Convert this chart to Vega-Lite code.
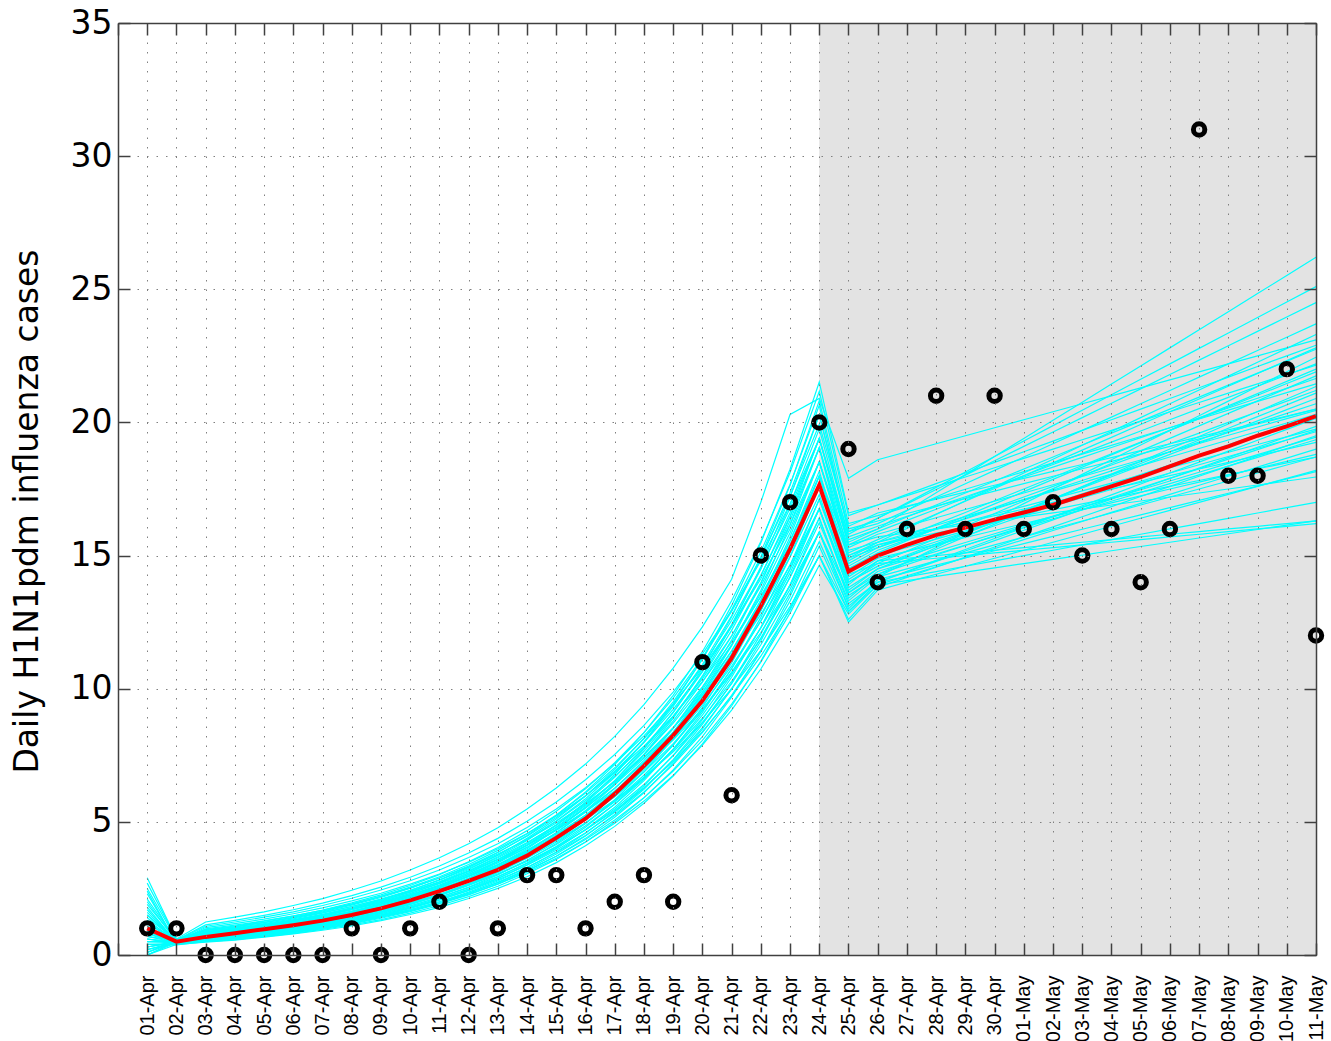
{
  "$schema": "https://vega.github.io/schema/vega-lite/v6.json",
  "width": 1198,
  "height": 932,
  "autosize": {"type": "none"},
  "padding": {"left": 118, "top": 23, "right": 15, "bottom": 86},
  "background": "white",
  "config": {"view": {"stroke": null}, "font": "DejaVu Sans"},
  "datasets": {
    "shade": [{"start": "2009-04-24", "end": "2009-05-11"}],
    "daily": [
      {"date":"2009-04-01","obs":1,"mean":1.0,"t1":1.0,"t2":0.6,"t3":1.5,"t4":0.3,"t5":2.1,"t6":0.8,"t7":0,"t8":1.2,"t9":0.5,"t10":0.9,"t11":1.8,"t12":0.2,"t13":1.3,"t14":0.7,"t15":2.5,"t16":0.4,"t17":1.1,"t18":0.6,"t19":1.6,"t20":0.1,"t21":0.9,"t22":1.4,"t23":0.5,"t24":2.9,"t25":0.3,"t26":1.9,"t27":2.7,"t28":1.0,"t29":0,"t30":0.7,"t31":1.0,"t32":0.2},
      {"date":"2009-04-02","obs":1,"mean":0.5,"t1":0.45,"t2":0.42,"t3":0.5,"t4":0.48,"t5":0.55,"t6":0.5,"t7":0.4,"t8":0.47,"t9":0.52,"t10":0.4,"t11":0.46,"t12":0.44,"t13":0.5,"t14":0.53,"t15":0.58,"t16":0.38,"t17":0.43,"t18":0.46,"t19":0.5,"t20":0.48,"t21":0.51,"t22":0.55,"t23":0.45,"t24":0.6,"t25":0.5,"t26":0.56,"t27":0.6,"t28":0.42,"t29":0.47,"t30":0.46,"t31":0.44,"t32":0.5},
      {"date":"2009-04-03","obs":0,"mean":0.68,"t1":0.68,"t2":0.61,"t3":0.65,"t4":0.71,"t5":0.75,"t6":0.78,"t7":0.58,"t8":0.69,"t9":0.82,"t10":0.71,"t11":0.75,"t12":0.8,"t13":0.84,"t14":0.88,"t15":0.92,"t16":0.5,"t17":0.52,"t18":0.55,"t19":0.58,"t20":0.61,"t21":0.63,"t22":0.67,"t23":0.88,"t24":0.93,"t25":1.03,"t26":1.13,"t27":1.24,"t28":0.56,"t29":0.82,"t30":0.66,"t31":0.51,"t32":0.73},
      {"date":"2009-04-04","obs":0,"mean":0.82,"t1":0.79,"t2":0.71,"t3":0.75,"t4":0.83,"t5":0.87,"t6":0.91,"t7":0.67,"t8":0.81,"t9":0.95,"t10":0.82,"t11":0.87,"t12":0.92,"t13":0.97,"t14":1.02,"t15":1.07,"t16":0.58,"t17":0.62,"t18":0.65,"t19":0.68,"t20":0.71,"t21":0.75,"t22":0.79,"t23":1.0,"t24":1.06,"t25":1.18,"t26":1.3,"t27":1.42,"t28":0.66,"t29":0.95,"t30":0.77,"t31":0.6,"t32":0.86},
      {"date":"2009-04-05","obs":0,"mean":0.97,"t1":0.93,"t2":0.83,"t3":0.88,"t4":0.97,"t5":1.02,"t6":1.07,"t7":0.79,"t8":0.95,"t9":1.11,"t10":0.95,"t11":1.01,"t12":1.06,"t13":1.12,"t14":1.18,"t15":1.23,"t16":0.69,"t17":0.73,"t18":0.77,"t19":0.8,"t20":0.84,"t21":0.88,"t22":0.93,"t23":1.15,"t24":1.22,"t25":1.35,"t26":1.49,"t27":1.62,"t28":0.77,"t29":1.1,"t30":0.9,"t31":0.71,"t32":1.0},
      {"date":"2009-04-06","obs":0,"mean":1.12,"t1":1.08,"t2":0.97,"t3":1.03,"t4":1.14,"t5":1.19,"t6":1.25,"t7":0.92,"t8":1.1,"t9":1.3,"t10":1.1,"t11":1.17,"t12":1.23,"t13":1.3,"t14":1.36,"t15":1.42,"t16":0.81,"t17":0.86,"t18":0.9,"t19":0.95,"t20":0.99,"t21":1.04,"t22":1.1,"t23":1.31,"t24":1.39,"t25":1.55,"t26":1.7,"t27":1.86,"t28":0.9,"t29":1.27,"t30":1.05,"t31":0.84,"t32":1.17},
      {"date":"2009-04-07","obs":0,"mean":1.29,"t1":1.26,"t2":1.14,"t3":1.2,"t4":1.33,"t5":1.39,"t6":1.45,"t7":1.07,"t8":1.29,"t9":1.52,"t10":1.27,"t11":1.35,"t12":1.42,"t13":1.5,"t14":1.57,"t15":1.65,"t16":0.96,"t17":1.01,"t18":1.07,"t19":1.12,"t20":1.17,"t21":1.22,"t22":1.3,"t23":1.5,"t24":1.59,"t25":1.77,"t26":1.95,"t27":2.12,"t28":1.05,"t29":1.47,"t30":1.23,"t31":0.99,"t32":1.37},
      {"date":"2009-04-08","obs":1,"mean":1.5,"t1":1.48,"t2":1.33,"t3":1.4,"t4":1.55,"t5":1.62,"t6":1.7,"t7":1.25,"t8":1.51,"t9":1.77,"t10":1.47,"t11":1.56,"t12":1.64,"t13":1.73,"t14":1.82,"t15":1.9,"t16":1.13,"t17":1.19,"t18":1.26,"t19":1.32,"t20":1.38,"t21":1.45,"t22":1.53,"t23":1.72,"t24":1.82,"t25":2.03,"t26":2.23,"t27":2.43,"t28":1.23,"t29":1.7,"t30":1.43,"t31":1.17,"t32":1.59},
      {"date":"2009-04-09","obs":0,"mean":1.75,"t1":1.72,"t2":1.55,"t3":1.64,"t4":1.81,"t5":1.9,"t6":1.98,"t7":1.47,"t8":1.76,"t9":2.07,"t10":1.7,"t11":1.8,"t12":1.9,"t13":2.0,"t14":2.1,"t15":2.2,"t16":1.33,"t17":1.41,"t18":1.48,"t19":1.56,"t20":1.63,"t21":1.71,"t22":1.81,"t23":1.97,"t24":2.09,"t25":2.32,"t26":2.55,"t27":2.78,"t28":1.43,"t29":1.96,"t30":1.67,"t31":1.38,"t32":1.86},
      {"date":"2009-04-10","obs":1,"mean":2.05,"t1":2.01,"t2":1.81,"t3":1.91,"t4":2.11,"t5":2.21,"t6":2.31,"t7":1.71,"t8":2.05,"t9":2.42,"t10":1.97,"t11":2.08,"t12":2.2,"t13":2.31,"t14":2.43,"t15":2.55,"t16":1.57,"t17":1.66,"t18":1.75,"t19":1.84,"t20":1.92,"t21":2.01,"t22":2.13,"t23":2.26,"t24":2.39,"t25":2.66,"t26":2.92,"t27":3.19,"t28":1.67,"t29":2.27,"t30":1.95,"t31":1.63,"t32":2.17},
      {"date":"2009-04-11","obs":2,"mean":2.4,"t1":2.35,"t2":2.12,"t3":2.23,"t4":2.47,"t5":2.59,"t6":2.7,"t7":2.0,"t8":2.4,"t9":2.82,"t10":2.27,"t11":2.41,"t12":2.54,"t13":2.68,"t14":2.81,"t15":2.94,"t16":1.86,"t17":1.96,"t18":2.06,"t19":2.17,"t20":2.27,"t21":2.37,"t22":2.52,"t23":2.58,"t24":2.74,"t25":3.04,"t26":3.34,"t27":3.65,"t28":1.95,"t29":2.62,"t30":2.28,"t31":1.92,"t32":2.54},
      {"date":"2009-04-12","obs":0,"mean":2.78,"t1":2.75,"t2":2.47,"t3":2.61,"t4":2.88,"t5":3.02,"t6":3.16,"t7":2.33,"t8":2.8,"t9":3.29,"t10":2.63,"t11":2.78,"t12":2.94,"t13":3.09,"t14":3.25,"t15":3.4,"t16":2.19,"t17":2.31,"t18":2.43,"t19":2.55,"t20":2.68,"t21":2.8,"t22":2.97,"t23":2.96,"t24":3.13,"t25":3.48,"t26":3.83,"t27":4.18,"t28":2.28,"t29":3.03,"t30":2.66,"t31":2.26,"t32":2.96},
      {"date":"2009-04-13","obs":1,"mean":3.2,"t1":3.21,"t2":2.88,"t3":3.04,"t4":3.37,"t5":3.53,"t6":3.69,"t7":2.72,"t8":3.27,"t9":3.85,"t10":3.04,"t11":3.22,"t12":3.4,"t13":3.58,"t14":3.75,"t15":3.93,"t16":2.58,"t17":2.73,"t18":2.87,"t19":3.01,"t20":3.16,"t21":3.3,"t22":3.5,"t23":3.39,"t24":3.59,"t25":3.99,"t26":4.38,"t27":4.78,"t28":2.66,"t29":3.5,"t30":3.11,"t31":2.67,"t32":3.46},
      {"date":"2009-04-14","obs":3,"mean":3.73,"t1":3.74,"t2":3.37,"t3":3.56,"t4":3.93,"t5":4.12,"t6":4.3,"t7":3.18,"t8":3.82,"t9":4.49,"t10":3.51,"t11":3.72,"t12":3.93,"t13":4.13,"t14":4.34,"t15":4.55,"t16":3.05,"t17":3.22,"t18":3.39,"t19":3.55,"t20":3.72,"t21":3.89,"t22":4.13,"t23":3.88,"t24":4.11,"t25":4.56,"t26":5.02,"t27":5.48,"t28":3.11,"t29":4.05,"t30":3.63,"t31":3.15,"t32":4.04},
      {"date":"2009-04-15","obs":3,"mean":4.4,"t1":4.37,"t2":3.93,"t3":4.15,"t4":4.59,"t5":4.81,"t6":5.03,"t7":3.71,"t8":4.46,"t9":5.24,"t10":4.06,"t11":4.3,"t12":4.54,"t13":4.78,"t14":5.02,"t15":5.26,"t16":3.59,"t17":3.79,"t18":3.99,"t19":4.19,"t20":4.39,"t21":4.59,"t22":4.87,"t23":4.44,"t24":4.7,"t25":5.22,"t26":5.75,"t27":6.27,"t28":3.63,"t29":4.68,"t30":4.24,"t31":3.71,"t32":4.72},
      {"date":"2009-04-16","obs":1,"mean":5.12,"t1":5.1,"t2":4.59,"t3":4.85,"t4":5.36,"t5":5.61,"t6":5.87,"t7":4.34,"t8":5.21,"t9":6.12,"t10":4.7,"t11":4.97,"t12":5.25,"t13":5.53,"t14":5.8,"t15":6.08,"t16":4.24,"t17":4.47,"t18":4.71,"t19":4.94,"t20":5.18,"t21":5.42,"t22":5.74,"t23":5.08,"t24":5.38,"t25":5.98,"t26":6.58,"t27":7.17,"t28":4.24,"t29":5.42,"t30":4.95,"t31":4.38,"t32":5.51},
      {"date":"2009-04-17","obs":2,"mean":6.05,"t1":5.96,"t2":5.36,"t3":5.66,"t4":6.26,"t5":6.55,"t6":6.85,"t7":5.07,"t8":6.08,"t9":7.15,"t10":5.43,"t11":5.75,"t12":6.07,"t13":6.39,"t14":6.71,"t15":7.03,"t16":5.0,"t17":5.28,"t18":5.55,"t19":5.83,"t20":6.11,"t21":6.39,"t22":6.78,"t23":5.82,"t24":6.16,"t25":6.85,"t26":7.53,"t27":8.21,"t28":4.95,"t29":6.26,"t30":5.78,"t31":5.17,"t32":6.44},
      {"date":"2009-04-18","obs":3,"mean":7.1,"t1":6.96,"t2":6.26,"t3":6.61,"t4":7.31,"t5":7.65,"t6":8.0,"t7":5.91,"t8":7.1,"t9":8.35,"t10":6.28,"t11":6.65,"t12":7.02,"t13":7.39,"t14":7.76,"t15":8.12,"t16":5.9,"t17":6.22,"t18":6.55,"t19":6.88,"t20":7.21,"t21":7.53,"t22":7.99,"t23":6.66,"t24":7.05,"t25":7.84,"t26":8.62,"t27":9.4,"t28":5.78,"t29":7.24,"t30":6.75,"t31":6.09,"t32":7.51},
      {"date":"2009-04-19","obs":2,"mean":8.25,"t1":8.13,"t2":7.31,"t3":7.72,"t4":8.53,"t5":8.94,"t6":9.34,"t7":6.91,"t8":8.29,"t9":9.75,"t10":7.26,"t11":7.69,"t12":8.11,"t13":8.54,"t14":8.97,"t15":9.39,"t16":6.95,"t17":7.34,"t18":7.73,"t19":8.11,"t20":8.5,"t21":8.89,"t22":9.43,"t23":7.63,"t24":8.07,"t25":8.97,"t26":9.87,"t27":10.77,"t28":6.74,"t29":8.37,"t30":7.88,"t31":7.19,"t32":8.78},
      {"date":"2009-04-20","obs":11,"mean":9.55,"t1":9.49,"t2":8.54,"t3":9.01,"t4":9.96,"t5":10.44,"t6":10.91,"t7":8.06,"t8":9.68,"t9":11.39,"t10":8.39,"t11":8.89,"t12":9.38,"t13":9.87,"t14":10.37,"t15":10.86,"t16":8.2,"t17":8.66,"t18":9.11,"t19":9.57,"t20":10.03,"t21":10.48,"t22":11.12,"t23":8.73,"t24":9.24,"t25":10.27,"t26":11.3,"t27":12.32,"t28":7.88,"t29":9.68,"t30":9.2,"t31":8.48,"t32":10.25},
      {"date":"2009-04-21","obs":6,"mean":11.15,"t1":11.08,"t2":9.97,"t3":10.53,"t4":11.63,"t5":12.19,"t6":12.74,"t7":9.42,"t8":11.3,"t9":13.3,"t10":9.71,"t11":10.28,"t12":10.85,"t13":11.42,"t14":11.99,"t15":12.56,"t16":9.68,"t17":10.21,"t18":10.75,"t19":11.29,"t20":11.83,"t21":12.36,"t22":13.12,"t23":10.0,"t24":10.58,"t25":11.76,"t26":12.94,"t27":14.11,"t28":9.2,"t29":11.19,"t30":10.75,"t31":10.0,"t32":11.97},
      {"date":"2009-04-22","obs":15,"mean":13.1,"t1":12.94,"t2":11.65,"t3":12.29,"t4":13.59,"t5":14.23,"t6":14.88,"t7":11.0,"t8":13.2,"t9":15.53,"t10":11.22,"t11":11.88,"t12":12.54,"t13":13.2,"t14":13.86,"t15":14.52,"t16":11.41,"t17":12.05,"t18":12.68,"t19":13.31,"t20":13.95,"t21":14.58,"t22":15.47,"t23":11.44,"t24":12.11,"t25":13.46,"t26":14.81,"t27":17.0,"t28":10.74,"t29":12.94,"t30":12.55,"t31":11.79,"t32":13.98},
      {"date":"2009-04-23","obs":17,"mean":15.25,"t1":15.1,"t2":13.59,"t3":14.35,"t4":15.86,"t5":16.61,"t6":17.37,"t7":12.84,"t8":15.4,"t9":18.12,"t10":12.96,"t11":13.73,"t12":14.49,"t13":15.25,"t14":16.01,"t15":16.78,"t16":13.46,"t17":14.2,"t18":14.95,"t19":15.7,"t20":16.45,"t21":17.19,"t22":18.24,"t23":13.09,"t24":13.86,"t25":15.4,"t26":16.94,"t27":20.3,"t28":12.53,"t29":14.95,"t30":14.65,"t31":13.9,"t32":16.31},
      {"date":"2009-04-24","obs":20,"mean":17.65,"t1":17.64,"t2":15.88,"t3":16.76,"t4":18.52,"t5":19.4,"t6":20.29,"t7":14.99,"t8":17.99,"t9":21.17,"t10":14.99,"t11":15.88,"t12":16.76,"t13":17.64,"t14":18.52,"t15":19.4,"t16":15.88,"t17":16.76,"t18":17.64,"t19":18.52,"t20":19.4,"t21":20.29,"t22":21.52,"t23":14.99,"t24":15.88,"t25":17.64,"t26":19.4,"t27":20.9,"t28":14.64,"t29":17.29,"t30":17.11,"t31":16.41,"t32":19.05},
      {"date":"2009-04-25","obs":19,"mean":14.4,"t1":14.1,"t2":13.3,"t3":14.0,"t4":15.0,"t5":15.6,"t6":16.0,"t7":12.6,"t8":15.2,"t9":16.5,"t10":12.9,"t11":13.6,"t12":13.9,"t13":14.6,"t14":15.3,"t15":15.8,"t16":13.0,"t17":13.7,"t18":14.2,"t19":14.9,"t20":15.4,"t21":15.9,"t22":16.6,"t23":12.5,"t24":13.2,"t25":14.7,"t26":15.5,"t27":17.9,"t28":12.8,"t29":14.0,"t30":14.3,"t31":13.5,"t32":14.8},
      {"date":"2009-04-26","obs":14,"mean":15.0,"t1":14.8,"t2":14.2,"t3":14.6,"t4":15.4,"t5":16.0,"t6":16.3,"t7":13.8,"t8":15.5,"t9":16.9,"t10":14.0,"t11":14.3,"t12":14.8,"t13":15.2,"t14":15.8,"t15":16.4,"t16":14.1,"t17":14.5,"t18":14.9,"t19":15.3,"t20":15.7,"t21":16.2,"t22":16.9,"t23":13.7,"t24":14.0,"t25":15.3,"t26":16.0,"t27":18.6,"t28":13.9,"t29":14.7,"t30":14.7,"t31":14.2,"t32":15.4},
      {"date":"2009-04-27","obs":16,"mean":15.4,"t1":15.16,"t2":14.5,"t3":15.02,"t4":15.62,"t5":16.45,"t6":16.58,"t7":14.18,"t8":16.02,"t9":17.25,"t10":14.2,"t11":14.77,"t12":14.9,"t13":15.6,"t14":16.11,"t15":16.98,"t16":14.37,"t17":14.83,"t18":15.16,"t19":15.74,"t20":15.85,"t21":16.7,"t22":17.3,"t23":14.0,"t24":14.39,"t25":15.66,"t26":16.68,"t27":18.9,"t28":14.06,"t29":15.17,"t30":14.8,"t31":14.75,"t32":15.69},
      {"date":"2009-04-28","obs":21,"mean":15.77,"t1":15.52,"t2":14.8,"t3":15.44,"t4":15.84,"t5":16.9,"t6":16.86,"t7":14.56,"t8":16.54,"t9":17.6,"t10":14.4,"t11":15.24,"t12":15.0,"t13":16.0,"t14":16.42,"t15":17.56,"t16":14.64,"t17":15.16,"t18":15.42,"t19":16.18,"t20":16.0,"t21":17.2,"t22":17.7,"t23":14.3,"t24":14.78,"t25":16.02,"t26":17.36,"t27":19.2,"t28":14.22,"t29":15.64,"t30":14.9,"t31":15.3,"t32":15.98},
      {"date":"2009-04-29","obs":16,"mean":16.05,"t1":15.88,"t2":15.1,"t3":15.86,"t4":16.06,"t5":17.35,"t6":17.14,"t7":14.94,"t8":17.06,"t9":17.95,"t10":14.6,"t11":15.71,"t12":15.1,"t13":16.4,"t14":16.73,"t15":18.14,"t16":14.91,"t17":15.49,"t18":15.68,"t19":16.62,"t20":16.15,"t21":17.7,"t22":18.1,"t23":14.6,"t24":15.17,"t25":16.38,"t26":18.04,"t27":19.5,"t28":14.38,"t29":16.11,"t30":15.0,"t31":15.85,"t32":16.27},
      {"date":"2009-04-30","obs":21,"mean":16.35,"t1":16.24,"t2":15.4,"t3":16.28,"t4":16.28,"t5":17.8,"t6":17.42,"t7":15.32,"t8":17.58,"t9":18.3,"t10":14.8,"t11":16.18,"t12":15.2,"t13":16.8,"t14":17.04,"t15":18.72,"t16":15.18,"t17":15.82,"t18":15.94,"t19":17.06,"t20":16.3,"t21":18.2,"t22":18.5,"t23":14.9,"t24":15.56,"t25":16.74,"t26":18.72,"t27":19.8,"t28":14.54,"t29":16.58,"t30":15.1,"t31":16.4,"t32":16.56},
      {"date":"2009-05-01","obs":16,"mean":16.62,"t1":16.6,"t2":15.7,"t3":16.7,"t4":16.5,"t5":18.25,"t6":17.7,"t7":15.7,"t8":18.1,"t9":18.65,"t10":15.0,"t11":16.65,"t12":15.3,"t13":17.2,"t14":17.35,"t15":19.3,"t16":15.45,"t17":16.15,"t18":16.2,"t19":17.5,"t20":16.45,"t21":18.7,"t22":18.9,"t23":15.2,"t24":15.95,"t25":17.1,"t26":19.4,"t27":20.1,"t28":14.7,"t29":17.05,"t30":15.2,"t31":16.95,"t32":16.85},
      {"date":"2009-05-02","obs":17,"mean":16.9,"t1":16.96,"t2":16.0,"t3":17.12,"t4":16.72,"t5":18.7,"t6":17.98,"t7":16.08,"t8":18.62,"t9":19.0,"t10":15.2,"t11":17.12,"t12":15.4,"t13":17.6,"t14":17.66,"t15":19.88,"t16":15.72,"t17":16.48,"t18":16.46,"t19":17.94,"t20":16.6,"t21":19.2,"t22":19.3,"t23":15.5,"t24":16.34,"t25":17.46,"t26":20.08,"t27":20.4,"t28":14.86,"t29":17.52,"t30":15.3,"t31":17.5,"t32":17.14},
      {"date":"2009-05-03","obs":15,"mean":17.25,"t1":17.32,"t2":16.3,"t3":17.54,"t4":16.94,"t5":19.15,"t6":18.26,"t7":16.46,"t8":19.14,"t9":19.35,"t10":15.4,"t11":17.59,"t12":15.5,"t13":18.0,"t14":17.97,"t15":20.46,"t16":15.99,"t17":16.81,"t18":16.72,"t19":18.38,"t20":16.75,"t21":19.7,"t22":19.7,"t23":15.8,"t24":16.73,"t25":17.82,"t26":20.76,"t27":20.7,"t28":15.02,"t29":17.99,"t30":15.4,"t31":18.05,"t32":17.43},
      {"date":"2009-05-04","obs":16,"mean":17.6,"t1":17.68,"t2":16.6,"t3":17.96,"t4":17.16,"t5":19.6,"t6":18.54,"t7":16.84,"t8":19.66,"t9":19.7,"t10":15.6,"t11":18.06,"t12":15.6,"t13":18.4,"t14":18.28,"t15":21.04,"t16":16.26,"t17":17.14,"t18":16.98,"t19":18.82,"t20":16.9,"t21":20.2,"t22":20.1,"t23":16.1,"t24":17.12,"t25":18.18,"t26":21.44,"t27":21.0,"t28":15.18,"t29":18.46,"t30":15.5,"t31":18.6,"t32":17.72},
      {"date":"2009-05-05","obs":14,"mean":17.95,"t1":18.04,"t2":16.9,"t3":18.38,"t4":17.38,"t5":20.05,"t6":18.82,"t7":17.22,"t8":20.18,"t9":20.05,"t10":15.8,"t11":18.53,"t12":15.7,"t13":18.8,"t14":18.59,"t15":21.62,"t16":16.53,"t17":17.47,"t18":17.24,"t19":19.26,"t20":17.05,"t21":20.7,"t22":20.5,"t23":16.4,"t24":17.51,"t25":18.54,"t26":22.12,"t27":21.3,"t28":15.34,"t29":18.93,"t30":15.6,"t31":19.15,"t32":18.01},
      {"date":"2009-05-06","obs":16,"mean":18.35,"t1":18.4,"t2":17.2,"t3":18.8,"t4":17.6,"t5":20.5,"t6":19.1,"t7":17.6,"t8":20.7,"t9":20.4,"t10":16.0,"t11":19.0,"t12":15.8,"t13":19.2,"t14":18.9,"t15":22.2,"t16":16.8,"t17":17.8,"t18":17.5,"t19":19.7,"t20":17.2,"t21":21.2,"t22":20.9,"t23":16.7,"t24":17.9,"t25":18.9,"t26":22.8,"t27":21.6,"t28":15.5,"t29":19.4,"t30":15.7,"t31":19.7,"t32":18.3},
      {"date":"2009-05-07","obs":31,"mean":18.75,"t1":18.76,"t2":17.5,"t3":19.22,"t4":17.82,"t5":20.95,"t6":19.38,"t7":17.98,"t8":21.22,"t9":20.75,"t10":16.2,"t11":19.47,"t12":15.9,"t13":19.6,"t14":19.21,"t15":22.78,"t16":17.07,"t17":18.13,"t18":17.76,"t19":20.14,"t20":17.35,"t21":21.7,"t22":21.3,"t23":17.0,"t24":18.29,"t25":19.26,"t26":23.48,"t27":21.9,"t28":15.66,"t29":19.87,"t30":15.8,"t31":20.25,"t32":18.59},
      {"date":"2009-05-08","obs":18,"mean":19.1,"t1":19.12,"t2":17.8,"t3":19.64,"t4":18.04,"t5":21.4,"t6":19.66,"t7":18.36,"t8":21.74,"t9":21.1,"t10":16.4,"t11":19.94,"t12":16.0,"t13":20.0,"t14":19.52,"t15":23.36,"t16":17.34,"t17":18.46,"t18":18.02,"t19":20.58,"t20":17.5,"t21":22.2,"t22":21.7,"t23":17.3,"t24":18.68,"t25":19.62,"t26":24.16,"t27":22.2,"t28":15.82,"t29":20.34,"t30":15.9,"t31":20.8,"t32":18.88},
      {"date":"2009-05-09","obs":18,"mean":19.5,"t1":19.48,"t2":18.1,"t3":20.06,"t4":18.26,"t5":21.85,"t6":19.94,"t7":18.74,"t8":22.26,"t9":21.45,"t10":16.6,"t11":20.41,"t12":16.1,"t13":20.4,"t14":19.83,"t15":23.94,"t16":17.61,"t17":18.79,"t18":18.28,"t19":21.02,"t20":17.65,"t21":22.7,"t22":22.1,"t23":17.6,"t24":19.07,"t25":19.98,"t26":24.84,"t27":22.5,"t28":15.98,"t29":20.81,"t30":16.0,"t31":21.35,"t32":19.17},
      {"date":"2009-05-10","obs":22,"mean":19.85,"t1":19.84,"t2":18.4,"t3":20.48,"t4":18.48,"t5":22.3,"t6":20.22,"t7":19.12,"t8":22.78,"t9":21.8,"t10":16.8,"t11":20.88,"t12":16.2,"t13":20.8,"t14":20.14,"t15":24.52,"t16":17.88,"t17":19.12,"t18":18.54,"t19":21.46,"t20":17.8,"t21":23.2,"t22":22.5,"t23":17.9,"t24":19.46,"t25":20.34,"t26":25.52,"t27":22.8,"t28":16.14,"t29":21.28,"t30":16.1,"t31":21.9,"t32":19.46},
      {"date":"2009-05-11","obs":12,"mean":20.24,"t1":20.2,"t2":18.7,"t3":20.9,"t4":18.7,"t5":22.75,"t6":20.5,"t7":19.5,"t8":23.3,"t9":22.15,"t10":17.0,"t11":21.35,"t12":16.3,"t13":21.2,"t14":20.45,"t15":25.1,"t16":18.15,"t17":19.45,"t18":18.8,"t19":21.9,"t20":17.95,"t21":23.7,"t22":22.9,"t23":18.2,"t24":19.85,"t25":20.7,"t26":26.2,"t27":23.1,"t28":16.3,"t29":21.75,"t30":16.2,"t31":22.45,"t32":19.75}
    ],
    "daily_more": [
      {"date":"2009-04-01","t33":0.4,"t34":1.7,"t35":0,"t36":2.3,"t37":0.5,"t38":1.2,"t39":0.8,"t40":2.0,"t41":0.3,"t42":1.3,"t43":0.6,"t44":1.5,"t45":2.4,"t46":0.1,"t47":0.9,"t48":1.0},
      {"date":"2009-04-02","t33":0.44,"t34":0.49,"t35":0.52,"t36":0.45,"t37":0.5,"t38":0.55,"t39":0.45,"t40":0.49,"t41":0.5,"t42":0.53,"t43":0.5,"t44":0.54,"t45":0.43,"t46":0.56,"t47":0.4,"t48":0.51},
      {"date":"2009-04-03","t33":0.63,"t34":0.7,"t35":0.76,"t36":0.78,"t37":0.85,"t38":0.91,"t39":0.53,"t40":0.56,"t41":0.6,"t42":0.65,"t43":0.98,"t44":1.08,"t45":0.6,"t46":0.95,"t47":0.48,"t48":0.8},
      {"date":"2009-04-04","t33":0.73,"t34":0.82,"t35":0.89,"t36":0.9,"t37":0.99,"t38":1.05,"t39":0.63,"t40":0.66,"t41":0.7,"t42":0.77,"t43":1.12,"t44":1.24,"t45":0.7,"t46":1.09,"t47":0.56,"t48":0.93},
      {"date":"2009-04-05","t33":0.85,"t34":0.95,"t35":1.04,"t36":1.04,"t37":1.14,"t38":1.21,"t39":0.74,"t40":0.78,"t41":0.83,"t42":0.9,"t43":1.28,"t44":1.42,"t45":0.82,"t46":1.27,"t47":0.67,"t48":1.08},
      {"date":"2009-04-06","t33":1.0,"t34":1.12,"t35":1.21,"t36":1.2,"t37":1.32,"t38":1.4,"t39":0.88,"t40":0.92,"t41":0.98,"t42":1.07,"t43":1.47,"t44":1.62,"t45":0.95,"t46":1.46,"t47":0.79,"t48":1.27},
      {"date":"2009-04-07","t33":1.16,"t34":1.3,"t35":1.42,"t36":1.39,"t37":1.53,"t38":1.62,"t39":1.03,"t40":1.09,"t41":1.15,"t42":1.26,"t43":1.68,"t44":1.86,"t45":1.11,"t46":1.69,"t47":0.93,"t48":1.48},
      {"date":"2009-04-08","t33":1.36,"t34":1.52,"t35":1.65,"t36":1.61,"t37":1.77,"t38":1.87,"t39":1.22,"t40":1.28,"t41":1.36,"t42":1.48,"t43":1.92,"t44":2.13,"t45":1.3,"t46":1.96,"t47":1.09,"t48":1.73},
      {"date":"2009-04-09","t33":1.59,"t34":1.78,"t35":1.93,"t36":1.86,"t37":2.04,"t38":2.16,"t39":1.44,"t40":1.51,"t41":1.6,"t42":1.75,"t43":2.2,"t44":2.44,"t45":1.52,"t46":2.26,"t47":1.29,"t48":2.02},
      {"date":"2009-04-10","t33":1.85,"t34":2.07,"t35":2.25,"t36":2.15,"t37":2.36,"t38":2.5,"t39":1.7,"t40":1.78,"t41":1.89,"t42":2.06,"t43":2.52,"t44":2.79,"t45":1.77,"t46":2.61,"t47":1.52,"t48":2.36},
      {"date":"2009-04-11","t33":2.16,"t34":2.42,"t35":2.63,"t36":2.49,"t37":2.73,"t38":2.89,"t39":2.0,"t40":2.1,"t41":2.23,"t42":2.43,"t43":2.89,"t44":3.19,"t45":2.07,"t46":3.02,"t47":1.79,"t48":2.75},
      {"date":"2009-04-12","t33":2.53,"t34":2.83,"t35":3.07,"t36":2.88,"t37":3.15,"t38":3.34,"t39":2.36,"t40":2.48,"t41":2.63,"t42":2.87,"t43":3.31,"t44":3.66,"t45":2.42,"t46":3.5,"t47":2.12,"t48":3.21},
      {"date":"2009-04-13","t33":2.95,"t34":3.3,"t35":3.59,"t36":3.33,"t37":3.65,"t38":3.86,"t39":2.78,"t40":2.93,"t41":3.1,"t42":3.39,"t43":3.79,"t44":4.18,"t45":2.82,"t46":4.04,"t47":2.5,"t48":3.75},
      {"date":"2009-04-14","t33":3.44,"t34":3.86,"t35":4.19,"t36":3.84,"t37":4.22,"t38":4.46,"t39":3.28,"t40":3.45,"t41":3.66,"t42":3.99,"t43":4.33,"t44":4.79,"t45":3.29,"t46":4.67,"t47":2.94,"t48":4.38},
      {"date":"2009-04-15","t33":4.02,"t34":4.5,"t35":4.89,"t36":4.44,"t37":4.87,"t38":5.16,"t39":3.87,"t40":4.07,"t41":4.31,"t42":4.71,"t43":4.96,"t44":5.48,"t45":3.85,"t46":5.4,"t47":3.47,"t48":5.11},
      {"date":"2009-04-16","t33":4.69,"t34":5.26,"t35":5.72,"t36":5.14,"t37":5.64,"t38":5.97,"t39":4.57,"t40":4.8,"t41":5.09,"t42":5.56,"t43":5.68,"t44":6.28,"t45":4.49,"t46":6.24,"t47":4.1,"t48":5.97},
      {"date":"2009-04-17","t33":5.48,"t34":6.14,"t35":6.67,"t36":5.94,"t37":6.52,"t38":6.9,"t39":5.39,"t40":5.67,"t41":6.0,"t42":6.55,"t43":6.5,"t44":7.19,"t45":5.24,"t46":7.22,"t47":4.83,"t48":6.97},
      {"date":"2009-04-18","t33":6.4,"t34":7.17,"t35":7.79,"t36":6.87,"t37":7.53,"t38":7.98,"t39":6.35,"t40":6.68,"t41":7.08,"t42":7.73,"t43":7.44,"t44":8.23,"t45":6.12,"t46":8.35,"t47":5.7,"t48":8.14},
      {"date":"2009-04-19","t33":7.48,"t34":8.37,"t35":9.1,"t36":7.94,"t37":8.71,"t38":9.22,"t39":7.5,"t40":7.88,"t41":8.35,"t42":9.12,"t43":8.52,"t44":9.42,"t45":7.15,"t46":9.65,"t47":6.72,"t48":9.51},
      {"date":"2009-04-20","t33":8.73,"t34":9.77,"t35":10.63,"t36":9.18,"t37":10.07,"t38":10.66,"t39":8.84,"t40":9.3,"t41":9.84,"t42":10.75,"t43":9.76,"t44":10.78,"t45":8.35,"t46":11.16,"t47":7.93,"t48":11.1},
      {"date":"2009-04-21","t33":10.19,"t34":11.41,"t35":12.41,"t36":10.62,"t37":11.65,"t38":12.33,"t39":10.43,"t40":10.97,"t41":11.61,"t42":12.69,"t43":11.17,"t44":12.35,"t45":9.75,"t46":12.9,"t47":9.35,"t48":12.96},
      {"date":"2009-04-22","t33":11.9,"t34":13.33,"t35":14.49,"t36":12.28,"t37":13.46,"t38":14.26,"t39":12.3,"t40":12.93,"t41":13.69,"t42":14.96,"t43":12.79,"t44":14.13,"t45":11.39,"t46":14.92,"t47":11.03,"t48":15.14},
      {"date":"2009-04-23","t33":13.89,"t34":15.55,"t35":16.91,"t36":14.18,"t37":15.56,"t38":16.47,"t39":14.5,"t40":15.25,"t41":16.15,"t42":17.64,"t43":14.63,"t44":16.17,"t45":13.29,"t46":17.23,"t47":13.01,"t48":17.67},
      {"date":"2009-04-24","t33":16.23,"t34":18.17,"t35":19.76,"t36":16.41,"t37":17.99,"t38":19.05,"t39":17.11,"t40":17.99,"t41":19.05,"t42":20.82,"t43":16.76,"t44":18.52,"t45":15.52,"t46":19.93,"t47":15.35,"t48":20.64},
      {"date":"2009-04-25","t33":13.6,"t34":14.5,"t35":15.7,"t36":13.4,"t37":14.9,"t38":15.4,"t39":14.0,"t40":14.5,"t41":15.1,"t42":16.2,"t43":13.8,"t44":15.0,"t45":13.1,"t46":16.1,"t47":12.9,"t48":15.9},
      {"date":"2009-04-26","t33":14.4,"t34":15.1,"t35":16.1,"t36":14.3,"t37":15.5,"t38":15.9,"t39":14.6,"t40":15.0,"t41":15.6,"t42":16.5,"t43":14.5,"t44":15.5,"t45":14.0,"t46":16.6,"t47":13.9,"t48":16.4},
      {"date":"2009-04-27","t33":14.73,"t34":15.56,"t35":16.47,"t36":14.66,"t37":15.75,"t38":16.32,"t39":14.98,"t40":15.31,"t41":16.08,"t42":16.83,"t43":14.94,"t44":15.82,"t45":14.41,"t46":16.86,"t47":14.24,"t48":16.94},
      {"date":"2009-04-28","t33":15.06,"t34":16.02,"t35":16.84,"t36":15.02,"t37":16.0,"t38":16.74,"t39":15.36,"t40":15.62,"t41":16.56,"t42":17.16,"t43":15.38,"t44":16.14,"t45":14.82,"t46":17.12,"t47":14.58,"t48":17.48},
      {"date":"2009-04-29","t33":15.39,"t34":16.48,"t35":17.21,"t36":15.38,"t37":16.25,"t38":17.16,"t39":15.74,"t40":15.93,"t41":17.04,"t42":17.49,"t43":15.82,"t44":16.46,"t45":15.23,"t46":17.38,"t47":14.92,"t48":18.02},
      {"date":"2009-04-30","t33":15.72,"t34":16.94,"t35":17.58,"t36":15.74,"t37":16.5,"t38":17.58,"t39":16.12,"t40":16.24,"t41":17.52,"t42":17.82,"t43":16.26,"t44":16.78,"t45":15.64,"t46":17.64,"t47":15.26,"t48":18.56},
      {"date":"2009-05-01","t33":16.05,"t34":17.4,"t35":17.95,"t36":16.1,"t37":16.75,"t38":18.0,"t39":16.5,"t40":16.55,"t41":18.0,"t42":18.15,"t43":16.7,"t44":17.1,"t45":16.05,"t46":17.9,"t47":15.6,"t48":19.1},
      {"date":"2009-05-02","t33":16.38,"t34":17.86,"t35":18.32,"t36":16.46,"t37":17.0,"t38":18.42,"t39":16.88,"t40":16.86,"t41":18.48,"t42":18.48,"t43":17.14,"t44":17.42,"t45":16.46,"t46":18.16,"t47":15.94,"t48":19.64},
      {"date":"2009-05-03","t33":16.71,"t34":18.32,"t35":18.69,"t36":16.82,"t37":17.25,"t38":18.84,"t39":17.26,"t40":17.17,"t41":18.96,"t42":18.81,"t43":17.58,"t44":17.74,"t45":16.87,"t46":18.42,"t47":16.28,"t48":20.18},
      {"date":"2009-05-04","t33":17.04,"t34":18.78,"t35":19.06,"t36":17.18,"t37":17.5,"t38":19.26,"t39":17.64,"t40":17.48,"t41":19.44,"t42":19.14,"t43":18.02,"t44":18.06,"t45":17.28,"t46":18.68,"t47":16.62,"t48":20.72},
      {"date":"2009-05-05","t33":17.37,"t34":19.24,"t35":19.43,"t36":17.54,"t37":17.75,"t38":19.68,"t39":18.02,"t40":17.79,"t41":19.92,"t42":19.47,"t43":18.46,"t44":18.38,"t45":17.69,"t46":18.94,"t47":16.96,"t48":21.26},
      {"date":"2009-05-06","t33":17.7,"t34":19.7,"t35":19.8,"t36":17.9,"t37":18.0,"t38":20.1,"t39":18.4,"t40":18.1,"t41":20.4,"t42":19.8,"t43":18.9,"t44":18.7,"t45":18.1,"t46":19.2,"t47":17.3,"t48":21.8},
      {"date":"2009-05-07","t33":18.03,"t34":20.16,"t35":20.17,"t36":18.26,"t37":18.25,"t38":20.52,"t39":18.78,"t40":18.41,"t41":20.88,"t42":20.13,"t43":19.34,"t44":19.02,"t45":18.51,"t46":19.46,"t47":17.64,"t48":22.34},
      {"date":"2009-05-08","t33":18.36,"t34":20.62,"t35":20.54,"t36":18.62,"t37":18.5,"t38":20.94,"t39":19.16,"t40":18.72,"t41":21.36,"t42":20.46,"t43":19.78,"t44":19.34,"t45":18.92,"t46":19.72,"t47":17.98,"t48":22.88},
      {"date":"2009-05-09","t33":18.69,"t34":21.08,"t35":20.91,"t36":18.98,"t37":18.75,"t38":21.36,"t39":19.54,"t40":19.03,"t41":21.84,"t42":20.79,"t43":20.22,"t44":19.66,"t45":19.33,"t46":19.98,"t47":18.32,"t48":23.42},
      {"date":"2009-05-10","t33":19.02,"t34":21.54,"t35":21.28,"t36":19.34,"t37":19.0,"t38":21.78,"t39":19.92,"t40":19.34,"t41":22.32,"t42":21.12,"t43":20.66,"t44":19.98,"t45":19.74,"t46":20.24,"t47":18.66,"t48":23.96},
      {"date":"2009-05-11","t33":19.35,"t34":22.0,"t35":21.65,"t36":19.7,"t37":19.25,"t38":22.2,"t39":20.3,"t40":19.65,"t41":22.8,"t42":21.45,"t43":21.1,"t44":20.3,"t45":20.15,"t46":20.5,"t47":19.0,"t48":24.5}
    ]
  },
  "layer": [
    {
      "data": {"name": "shade"},
      "mark": {"type": "rect", "color": "#e3e3e3"},
      "encoding": {
        "x": {
          "field": "start", "type": "temporal",
          "scale": {"type": "utc", "domain": [{"year": 2009, "month": 3, "date": 31, "utc": true}, {"year": 2009, "month": 5, "date": 11, "utc": true}]},
          "axis": {"orient": "top", "labels": false, "title": null, "grid": false, "tickCount": {"interval": "day", "step": 1}, "tickSize": -12, "tickColor": "#404040", "tickWidth": 1.5, "domainColor": "#404040", "domainWidth": 1.5, "zindex": 1}
        },
        "x2": {"field": "end"},
        "y": {
          "datum": 0, "type": "quantitative",
          "scale": {"domain": [0, 35], "nice": false},
          "axis": {"orient": "right", "labels": false, "title": null, "grid": false, "values": [0, 5, 10, 15, 20, 25, 30, 35], "tickSize": -12, "tickColor": "#404040", "tickWidth": 1.5, "domainColor": "#404040", "domainWidth": 1.5, "zindex": 1}
        },
        "y2": {"datum": 35}
      }
    },
    {
      "data": {"name": "daily"},
      "transform": [
        {"fold": ["t1","t2","t3","t4","t5","t6","t7","t8","t9","t10","t11","t12","t13","t14","t15","t16","t17","t18","t19","t20","t21","t22","t23","t24","t25","t26","t27","t28","t29","t30","t31","t32"], "as": ["run", "cases"]}
      ],
      "mark": {"type": "line", "color": "#00ffff", "strokeWidth": 1.2},
      "encoding": {
        "x": {
          "field": "date", "type": "temporal",
          "scale": {"type": "utc", "domain": [{"year": 2009, "month": 3, "date": 31, "utc": true}, {"year": 2009, "month": 5, "date": 11, "utc": true}]},
          "axis": {
            "orient": "bottom", "title": null,
            "labelExpr": "utcmonth(datum.value) == 2 ? '' : utcFormat(datum.value, '%d-%b')",
            "tickCount": {"interval": "day", "step": 1},
            "labelAngle": -90, "labelFont": "Liberation Sans", "labelFontSize": 20, "labelColor": "black",
            "labelPadding": 32, "labelOverlap": false, "labelFlush": false,
            "tickSize": -12, "tickColor": "#404040", "tickWidth": 1.5,
            "domainColor": "#404040", "domainWidth": 1.5,
            "grid": true, "gridColor": "#808080", "gridDash": [1.5, 8], "gridWidth": 1,
            "zindex": 1
          }
        },
        "y": {
          "field": "cases", "type": "quantitative",
          "scale": {"domain": [0, 35], "nice": false},
          "axis": {
            "orient": "left", "values": [0, 5, 10, 15, 20, 25, 30, 35],
            "title": "Daily H1N1pdm influenza cases", "titleFont": "DejaVu Sans", "titleFontSize": 33, "titleFontWeight": "normal", "titleColor": "black", "titlePadding": 26, "titleY": 488,
            "labelFont": "DejaVu Sans", "labelFontSize": 33, "labelColor": "black", "labelPadding": 18,
            "tickSize": -12, "tickColor": "#404040", "tickWidth": 1.5,
            "domainColor": "#404040", "domainWidth": 1.5,
            "grid": true, "gridColor": "#808080", "gridDash": [1.5, 8], "gridWidth": 1,
            "zindex": 1
          }
        },
        "detail": {"field": "run", "type": "nominal"}
      }
    },
    {
      "data": {"name": "daily_more"},
      "transform": [
        {"fold": ["t33","t34","t35","t36","t37","t38","t39","t40","t41","t42","t43","t44","t45","t46","t47","t48"], "as": ["run", "cases"]}
      ],
      "mark": {"type": "line", "color": "#00ffff", "strokeWidth": 1.2},
      "encoding": {
        "x": {"field": "date", "type": "temporal", "axis": null},
        "y": {"field": "cases", "type": "quantitative", "axis": null},
        "detail": {"field": "run", "type": "nominal"}
      }
    },
    {
      "data": {"name": "daily"},
      "mark": {"type": "line", "color": "#ff0000", "strokeWidth": 4},
      "encoding": {
        "x": {"field": "date", "type": "temporal", "axis": null},
        "y": {"field": "mean", "type": "quantitative", "axis": null}
      }
    },
    {
      "data": {"name": "daily"},
      "mark": {"type": "point", "shape": "circle", "filled": false, "stroke": "black", "strokeWidth": 5, "size": 130, "opacity": 1},
      "encoding": {
        "x": {"field": "date", "type": "temporal", "axis": null},
        "y": {"field": "obs", "type": "quantitative", "axis": null}
      }
    }
  ],
  "resolve": {"axis": {"x": "independent", "y": "independent"}}
}
